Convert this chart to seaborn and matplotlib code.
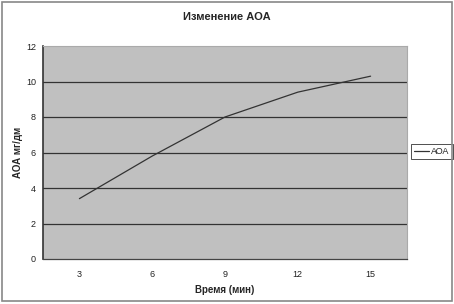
import matplotlib
matplotlib.use("Agg")
import matplotlib.pyplot as plt
import seaborn as sns
import pandas as pd
from matplotlib.patches import Rectangle

categories = ["3", "6", "9", "12", "15"]
aoa_values = [3.4, 5.8, 8.0, 9.4, 10.3]
y_ticks = [0, 2, 4, 6, 8, 10, 12]
series_name = "АОА"

sns.set_theme(style="white")
plt.rcParams['font.family'] = ['Liberation Sans', 'DejaVu Sans']

df = pd.DataFrame({"pos": list(range(len(categories))), "val": aoa_values, "s": series_name})

fig = plt.figure(figsize=(4.54, 3.04), dpi=100)
ax = fig.add_axes([43/454, 45/304, 364/454, 213/304])
ax.set_facecolor("#c0c0c0")

for y in y_ticks[1:-1]:
    ax.axhline(y, color="#333333", lw=0.9, zorder=1)

sns.lineplot(data=df, x="pos", y="val", hue="s", palette=["#333333"], lw=0.9, ax=ax, zorder=3)

ax.set_xlim(-0.5, len(categories) - 0.5)
ax.set_ylim(0, 12)
ax.set_yticks(y_ticks)
ax.set_yticklabels([str(v) for v in y_ticks], fontsize=6.5)
ax.set_xticks(range(len(categories)))
ax.set_xticklabels(categories, fontsize=6.5)
ax.set_xticks([i + 0.5 for i in range(-1, len(categories))], minor=True)
ax.tick_params(axis="x", which="major", length=0, pad=8, colors="#222222")
ax.tick_params(axis="x", which="minor", length=3, width=0.6, color="#555555", direction="out")
ax.tick_params(axis="y", which="major", length=3, width=0.8, direction="out", pad=2, colors="#222222")
ax.tick_params(axis="y", which="major", color="#333333")

ax.spines["top"].set_color("#aaaaaa")
ax.spines["top"].set_linewidth(0.8)
ax.spines["right"].set_color("#aaaaaa")
ax.spines["right"].set_linewidth(0.8)
ax.spines["left"].set_color("#333333")
ax.spines["left"].set_linewidth(1.2)
ax.spines["bottom"].set_color("#444444")
ax.spines["bottom"].set_linewidth(0.9)

ax.set_xlabel("Время (мин)", fontsize=7, fontweight="bold", labelpad=4)
ax.set_ylabel("АОА мг/дм", fontsize=7, fontweight="bold")
ax.yaxis.set_label_coords(-20/364, 0.5)
fig.text(0.5, 1 - 17/304, "Изменение АОА", ha="center", va="center", fontsize=8, fontweight="bold")

leg = ax.legend(loc="center left", bbox_to_anchor=((411 - 43) / 364, 0.505), frameon=True,
                fontsize=6.5, handlelength=1.6, handletextpad=0.3, borderpad=0.35,
                borderaxespad=0.0, fancybox=False, edgecolor="black", title=None)
leg.get_frame().set_linewidth(0.6)

fig.patches.append(Rectangle((0.004, 0.01), 0.992, 0.985, transform=fig.transFigure,
                             fill=False, edgecolor="#888888", lw=1.2))

fig.savefig("out.png", dpi=100)
